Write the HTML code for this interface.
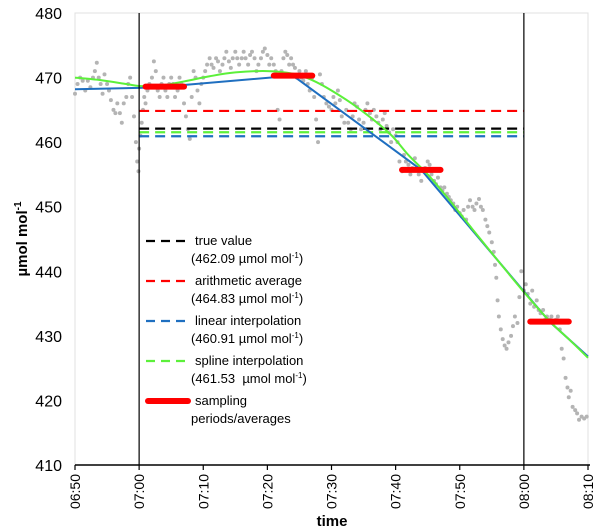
<!DOCTYPE html>
<html><head><meta charset="utf-8"><style>
body{margin:0;background:#fff}
svg{display:block;font-family:"Liberation Sans",Arial,sans-serif}
</style></head><body>
<svg id="chart" width="600" height="532" viewBox="0 0 600 532">
<rect x="75" y="13" width="513" height="452" fill="none" stroke="#e0e0e0"/>
<g id="obs"></g>
<g id="lines"></g>
<g id="axes"></g>
<g id="legend" font-size="13" fill="#000">
<line x1="146" y1="241" x2="188" y2="241" stroke="#000" stroke-width="2.2" stroke-dasharray="9,6"/>
<text x="195" y="245">true value</text>
<text x="191" y="263">(462.09 µmol mol<tspan font-size="8" dy="-5">-1</tspan><tspan dy="5">)</tspan></text>
<line x1="146" y1="281" x2="188" y2="281" stroke="#ff0000" stroke-width="2.2" stroke-dasharray="9,6"/>
<text x="195" y="285">arithmetic average</text>
<text x="191" y="303">(464.83 µmol mol<tspan font-size="8" dy="-5">-1</tspan><tspan dy="5">)</tspan></text>
<line x1="146" y1="321" x2="188" y2="321" stroke="#1f6fc0" stroke-width="2.2" stroke-dasharray="9,6"/>
<text x="195" y="325">linear interpolation</text>
<text x="191" y="343">(460.91 µmol mol<tspan font-size="8" dy="-5">-1</tspan><tspan dy="5">)</tspan></text>
<line x1="146" y1="361" x2="188" y2="361" stroke="#5cf03a" stroke-width="2.2" stroke-dasharray="9,6"/>
<text x="195" y="365">spline interpolation</text>
<text x="191" y="383">(461.53 &#160;µmol mol<tspan font-size="8" dy="-5">-1</tspan><tspan dy="5">)</tspan></text>
<line x1="148" y1="401" x2="188" y2="401" stroke="#ff0000" stroke-width="6" stroke-linecap="round"/>
<text x="195" y="405">sampling</text>
<text x="191" y="423">periods/averages</text>
</g>
<text x="332" y="526" text-anchor="middle" font-size="15" font-weight="bold">time</text>
<text transform="translate(27,239) rotate(-90)" text-anchor="middle" font-size="15" font-weight="bold">µmol mol<tspan font-size="10" dy="-6">-1</tspan></text>
</svg>
<script>
// minutes after 06:50
const xTickLabels=["06:50","07:00","07:10","07:20","07:30","07:40","07:50","08:00","08:10"];
const yTicks=[410,420,430,440,450,460,470,480];
const obsT=[
0,0.4,0.8,1.2,1.6,2,2.4,2.8,3.1,3.4,3.7,4,4.3,4.6,5,5.3,5.6,6,6.3,6.6,7,7.3,7.6,8,8.3,8.6,8.9,9.2,9.5,9.7,9.9,10,
10.2,10.4,10.6,10.8,11,11.3,11.6,12,12.3,12.6,12.9,13.2,13.5,13.8,14.1,14.4,14.7,15,15.3,15.6,16,16.3,16.6,17,17.3,17.6,17.9,18.2,18.5,18.8,19.1,19.4,19.7,20,
20.3,20.6,21,21.3,21.6,22,22.3,22.6,23,23.3,23.6,24,24.3,24.6,25,25.3,25.6,26,26.3,26.6,27,27.3,27.6,28,28.3,28.6,29,29.3,29.6,30,
30.3,30.6,31,31.3,31.6,31.9,32.2,32.5,32.8,33.1,33.4,33.7,34,34.3,34.6,35,35.3,35.6,36,36.3,36.6,37,37.3,37.6,37.9,38.2,38.5,38.8,39.2,39.6,40,
40.3,40.6,41,41.3,41.6,42,42.3,42.6,43,43.3,43.6,44,44.3,44.6,45,45.3,45.6,46,46.3,46.6,47,47.3,47.6,48,48.3,48.6,49,49.3,49.6,50,
50.3,50.6,51,51.3,51.6,52,52.3,52.6,53,53.3,53.6,54,54.3,54.6,55,55.3,55.6,56,56.3,56.6,57,57.3,57.6,58,58.3,58.6,59,59.3,59.6,60,
60.3,60.6,61,61.3,61.6,62,62.3,62.6,63,63.3,63.6,64,64.3,64.6,65,65.3,65.5,65.7,65.9,66.1,66.4,66.7,67,67.3,67.6,68,68.3,68.6,69,69.3,69.6,70,
70.3,70.6,71,71.3,71.6,72,72.3,72.6,73,73.3,73.6,74,74.3,74.6,75,75.3,75.6,75.9,76.2,76.5,76.8,77,77.3,77.6,78,78.3,78.6,79,79.4,79.8];
const obsV=[
467.5,469,470,469.5,468,469.5,468.5,470,471,472.3,470,469,467.5,470.5,469,468,466.5,465,464.5,466,464.5,463,466,467,469,470,467,464,460,457,455.5,459,
461,463,465,467,466,468,469,470,472.5,471,468,467,469,470,468,467,469,470,469,467,468,470,469,466,464,462,460.5,467,471,470,468,466,469,470,
471,472,473,472,471.5,473,472.5,471,472,473,474,472.5,471.5,473,474,473,472,473,474,473,472,473.5,474,473,471,472,473,474,474.5,473.5,
472,473,472,471,465,463.5,471,473,474,473.5,472,473,472,471.5,470,471,470,469.5,471,469,468,470,467,463.5,460,470.5,469,467,466,465.5,465,
467,466,468,466.5,464,463,465,463,462,464,466,465.5,463.5,462,463,465,466,464.5,463.5,465,464,463,462,463.5,464.5,462.5,461.5,460,462,461,
460,457,455.5,458,457,456.5,455,456,457.5,456,455,454,455.5,456,457,456.5,455,454,453.5,454.5,453,452.5,453,452,451.5,451,450.5,449.5,450,449,
448.5,449.5,448,450,451,450,449.5,450.5,451.2,450,449.5,448,447,446,444.5,443,441,439,435.5,433,431,429.5,428.5,428,429,430,431.5,433,432,436,440,437,
438,436.5,435,437,434.5,435.5,434,433.5,434,432.5,433,432.5,433,432,432.5,433,431,428,426.5,423.5,422,420.5,421.5,419,418.5,418,417,417.5,417.2,417.5];
const sampStart=[11,31,51,71];
const sampEnd=[17,37,57,77];
const sampVal=[468.6,470.3,455.7,432.2];
const linT=[0,10,14,34,54,74,80];
const linV=[468.2,468.4,468.6,470.3,455.7,432.2,426.8];
const splT=[0,4,8,10,13,17,21,25,30,34,37,40,44,49,52,55,58,62,66,70,74,77,80];
const splV=[470,469.6,469,468.7,468.7,469.4,470.2,470.8,471,470.6,469.6,468,465.4,461.4,458,455,451.5,446.5,441.6,436.8,432.3,429.5,426.6];
const refNames=["true-value","arithmetic-average","linear-interpolation","spline-interpolation"];
const refVals=[462.09,464.83,460.91,461.53];
const refColors=["#000000","#ff0000","#1f6fc0","#5cf03a"];
const X0=75,X1=588,Y0=465,Y1=13;
const xs=t=>X0+(t/80)*(X1-X0);
const ys=v=>Y0-(v-410)/70*(Y0-Y1);
const NS="http://www.w3.org/2000/svg";
function mk(tag,attrs,parent){const e=document.createElementNS(NS,tag);for(const k in attrs)e.setAttribute(k,attrs[k]);parent.appendChild(e);return e;}
const obs=document.getElementById('obs'),lines=document.getElementById('lines'),axes=document.getElementById('axes');
const n=Math.min(obsT.length,obsV.length);
for(let i=0;i<n;i++){
 const c=mk('circle',{cx:xs(obsT[i]),cy:ys(obsV[i]),r:2,fill:'#b4b4b4'},obs);
 
 
}
[10,70].forEach(t=>{
 const l=mk('line',{x1:xs(t),x2:xs(t),y1:Y1,y2:Y0,stroke:'#000','stroke-width':1.2},axes);
 
 
});
for(let i=0;i<refVals.length;i++){
 const l=mk('line',{x1:xs(10),x2:xs(70),y1:ys(refVals[i]),y2:ys(refVals[i]),stroke:refColors[i],'stroke-width':2.2,'stroke-dasharray':'10,6'},lines);
 
 
}
const lp=mk('polyline',{points:linT.map((t,i)=>xs(t)+','+ys(linV[i])).join(' '),fill:'none',stroke:'#1f6fc0','stroke-width':2},lines);


let P=splT.map((t,i)=>[xs(t),ys(splV[i])]);
let d='M'+P[0][0]+','+P[0][1];
for(let i=0;i<P.length-1;i++){
 const p0=P[Math.max(0,i-1)],p1=P[i],p2=P[i+1],p3=P[Math.min(P.length-1,i+2)];
 d+=' C'+(p1[0]+(p2[0]-p0[0])/6)+','+(p1[1]+(p2[1]-p0[1])/6)+' '+(p2[0]-(p3[0]-p1[0])/6)+','+(p2[1]-(p3[1]-p1[1])/6)+' '+p2[0]+','+p2[1];
}
const sp=mk('path',{d:d,fill:'none',stroke:'#5cf03a','stroke-width':2},lines);


for(let i=0;i<sampVal.length;i++){
 const s=mk('line',{x1:xs(sampStart[i]),x2:xs(sampEnd[i]),y1:ys(sampVal[i]),y2:ys(sampVal[i]),stroke:'#ff0000','stroke-width':6,'stroke-linecap':'round'},lines);
 
 
}
const xa=mk('line',{x1:X0,x2:X1+2,y1:Y0,y2:Y0,stroke:'#000','stroke-width':1.5},axes);


xTickLabels.forEach((lab,i)=>{
 const x=xs(i*10);
 const tk=mk('line',{x1:x,x2:x,y1:Y0,y2:Y0+5,stroke:'#000','stroke-width':1.2},axes);
 
 
 const tx=mk('text',{transform:'translate('+(x+5)+','+(Y0+9)+') rotate(-90)','text-anchor':'end','font-size':'14'},axes);
 tx.textContent=lab;
 
 
});
yTicks.forEach(v=>{
 const tx=mk('text',{x:62,y:ys(v)+6,'text-anchor':'end','font-size':'16'},axes);
 tx.textContent=v;
 
 
});
</script>
</body></html>
